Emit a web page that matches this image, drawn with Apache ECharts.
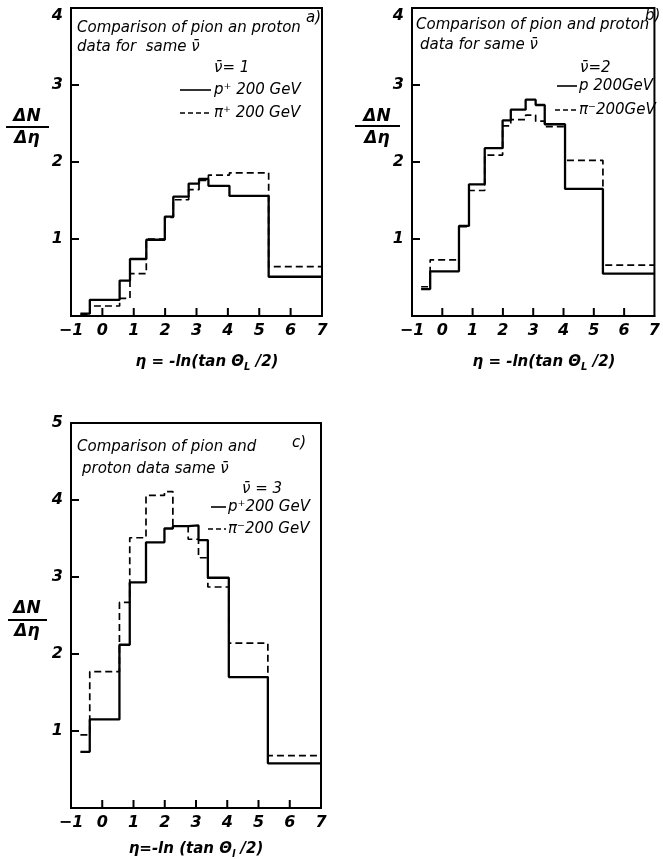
<!DOCTYPE html>
<html>
<head>
<meta charset="utf-8">
<script src="https://cdn.jsdelivr.net/npm/echarts@6/dist/echarts.min.js"></script>
<style>
  html, body { margin: 0; padding: 0; background: #fff; }
  #chart { width: 663px; height: 859px; }
</style>
</head>
<body>
<div id="chart"></div>
<script>
// Pseudorapidity bin edges shared by all three histograms
const etaEdges = [-0.7, -0.4, 0.55, 0.88, 1.4, 1.99, 2.26, 2.75, 3.08, 3.38, 4.05, 5.3, 7];

// dN/d(eta) per bin, nu-bar = 1
const protonNu1 = [0.03, 0.21, 0.46, 0.74, 0.99, 1.29, 1.55, 1.72, 1.78, 1.69, 1.56, 0.51];
const pionNu1   = [0.02, 0.13, 0.23, 0.55, 1.00, 1.28, 1.51, 1.64, 1.76, 1.83, 1.86, 0.64];

// dN/d(eta) per bin, nu-bar = 2
const protonNu2 = [0.35, 0.58, 1.17, 1.71, 2.18, 2.54, 2.68, 2.81, 2.74, 2.49, 1.65, 0.55];
const pionNu2   = [0.38, 0.73, 1.16, 1.63, 2.09, 2.47, 2.55, 2.61, 2.53, 2.46, 2.02, 0.66];

// dN/d(eta) per bin, nu-bar = 3
const protonNu3 = [0.73, 1.15, 2.12, 2.93, 3.45, 3.63, 3.66, 3.67, 3.48, 2.99, 1.70, 0.58];
const pionNu3   = [0.95, 1.77, 2.67, 3.51, 4.06, 4.11, 3.66, 3.49, 3.25, 2.87, 2.14, 0.68];

const etaMin = -1, etaMax = 7;
const yMaxTop = 4, yMaxBottom = 5;
const panelYMax = [yMaxTop, yMaxTop, yMaxBottom];

const FONT = '"DejaVu Sans", "Liberation Sans", sans-serif';
const TICK_LEN = 8;

// turn bin edges + contents into points for a stepped outline
function stepPoints(edges, values) {
  const pts = values.map((v, i) => [edges[i], v]);
  pts.push([edges[edges.length - 1], values[values.length - 1]]);
  return pts;
}

const grids = [
  { left: 71,  top: 8,   width: 251, height: 308 },
  { left: 412, top: 8,   width: 250, height: 308 },
  { left: 71,  top: 423, width: 250, height: 385 }
];

function xAxisFor(i) {
  return {
    gridIndex: i, type: 'value', min: etaMin, max: etaMax, interval: 1,
    axisLine: { show: true, onZero: false, lineStyle: { color: '#000', width: 2 } },
    axisTick: { show: false },
    splitLine: { show: false },
    axisLabel: {
      margin: 7, color: '#000', fontFamily: FONT, fontStyle: 'italic', fontWeight: 'bold', fontSize: 16,
      showMinLabel: true, showMaxLabel: true,
      formatter: v => String(v).replace('-', '\u2212')
    }
  };
}

function yAxisFor(i, max) {
  return {
    gridIndex: i, type: 'value', min: 0, max: max, interval: 1,
    axisLine: { show: true, onZero: false, lineStyle: { color: '#000', width: 2 } },
    axisTick: { show: false },
    splitLine: { show: false },
    axisLabel: {
      margin: 8, color: '#000', fontFamily: FONT, fontStyle: 'italic', fontWeight: 'bold', fontSize: 16,
      // the top label of the short panels sits a little below its tick
      formatter: v => (v === 0 ? '' : (max === yMaxTop && v === max ? '{top|' + v + '}' : String(v))),
      rich: {
        top: { fontFamily: FONT, fontStyle: 'italic', fontWeight: 'bold', fontSize: 16, color: '#000', padding: [16, 0, 0, 0] }
      }
    }
  };
}

function histSeries(i, values, dashed) {
  return {
    type: 'line', xAxisIndex: i, yAxisIndex: i, step: 'end', symbol: 'none', silent: true,
    data: stepPoints(etaEdges, values),
    lineStyle: dashed
      ? { color: '#000', width: 1.7, type: [7, 4] }
      : { color: '#000', width: 2.3 }
  };
}

// text helpers for annotations
function label(x, y, text, size, opts) {
  opts = opts || {};
  return {
    type: 'text', x: x, y: y, silent: true,
    style: {
      text: text, fill: '#000',
      font: 'italic ' + (opts.weight || 'normal') + ' ' + size + 'px ' + FONT,
      align: opts.align || 'left', verticalAlign: 'middle'
    }
  };
}
function rule(x1, x2, y, dashed) {
  return {
    type: 'line', silent: true,
    shape: { x1: x1, y1: y, x2: x2, y2: y },
    style: dashed ? { stroke: '#000', lineWidth: 1.6, lineDash: [5, 3] } : { stroke: '#000', lineWidth: 1.6 }
  };
}
function fraction(cx, x1, x2, yNum, yBar, yDen) {
  return [
    label(cx, yNum, 'ΔN', 17, { weight: 'bold', align: 'center' }),
    { type: 'line', silent: true, shape: { x1: x1, y1: yBar, x2: x2, y2: yBar }, style: { stroke: '#000', lineWidth: 2 } },
    label(cx, yDen, 'Δη', 17, { weight: 'bold', align: 'center' })
  ];
}
// eta = -ln(tan theta/2) with a subscript on theta
function etaTitle(cx, cy, lead, sub) {
  const base = { fontFamily: FONT, fontStyle: 'italic', fontWeight: 'bold', fill: '#000' };
  return {
    type: 'text', x: cx, y: cy, silent: true,
    style: {
      text: '{t|' + lead + '}{s|' + sub + '}{t| /2)}',
      align: 'center', verticalAlign: 'middle',
      rich: {
        t: Object.assign({ fontSize: 15 }, base),
        s: Object.assign({ fontSize: 10, padding: [10, 0, 0, 0] }, base)
      }
    }
  };
}

const NUBAR = 'ν\u0304';
const TXT = 15;

const graphics = [].concat(
  // panel a
  label(77, 28, 'Comparison of pion an proton', TXT),
  label(306, 18, 'a)', TXT),
  label(77, 47, 'data for  same ' + NUBAR, TXT),
  label(214, 68, NUBAR + '= 1', TXT),
  rule(180, 211, 90, false),
  label(214, 90, 'p\u207A 200 GeV', TXT),
  rule(180, 211, 113, true),
  label(214, 113, 'π\u207A 200 GeV', TXT),
  fraction(27, 6, 49, 117, 127, 139),
  etaTitle(207, 362, 'η = -ln(tan Θ', 'L'),

  // panel b
  label(416, 25, 'Comparison of pion and proton', TXT),
  label(645, 16, 'b)', TXT),
  label(420, 45, 'data for same ' + NUBAR, TXT),
  label(580, 68, NUBAR + '=2', TXT),
  rule(557, 577, 86, false),
  label(579, 86, 'p 200GeV', TXT),
  rule(555, 577, 110, true),
  label(579, 110, 'π\u207B200GeV', TXT),
  fraction(377, 355, 400, 117, 126, 139),
  etaTitle(544, 362, 'η = -ln(tan Θ', 'L'),

  // panel c
  label(77, 447, 'Comparison of pion and', TXT),
  label(82, 469, 'proton data same ' + NUBAR, TXT),
  label(292, 443, 'c)', TXT),
  label(242, 489, NUBAR + ' = 3', TXT),
  rule(211, 226, 507, false),
  label(228, 507, 'p\u207A200 GeV', TXT),
  rule(208, 226, 529, true),
  label(228, 529, 'π\u207B200 GeV', TXT),
  fraction(27, 8, 47, 609, 620, 632),
  etaTitle(196, 849, 'η=-ln (tan Θ', 'l')
);

const option = {
  animation: false,
  backgroundColor: '#fff',
  grid: grids.map(g => Object.assign({ show: true, borderColor: '#000', borderWidth: 2 }, g)),
  xAxis: [xAxisFor(0), xAxisFor(1), xAxisFor(2)],
  yAxis: [yAxisFor(0, yMaxTop), yAxisFor(1, yMaxTop), yAxisFor(2, yMaxBottom)],
  series: [
    histSeries(0, protonNu1, false), histSeries(0, pionNu1, true),
    histSeries(1, protonNu2, false), histSeries(1, pionNu2, true),
    histSeries(2, protonNu3, false), histSeries(2, pionNu3, true)
  ],
  graphic: graphics
};

const chart = echarts.init(document.getElementById('chart'), null, { renderer: 'canvas' });
chart.setOption(option);

// inward tick marks on the bottom and left frame edges, placed through each panel's scales
const tickMarks = [];
panelYMax.forEach((ymax, gi) => {
  for (let x = etaMin + 1; x < etaMax; x++) {
    const p = chart.convertToPixel({ gridIndex: gi }, [x, 0]);
    tickMarks.push({ type: 'line', silent: true, z: 10,
      shape: { x1: p[0], y1: p[1], x2: p[0], y2: p[1] - TICK_LEN },
      style: { stroke: '#000', lineWidth: 2 } });
  }
  for (let y = 1; y < ymax; y++) {
    const p = chart.convertToPixel({ gridIndex: gi }, [etaMin, y]);
    tickMarks.push({ type: 'line', silent: true, z: 10,
      shape: { x1: p[0], y1: p[1], x2: p[0] + TICK_LEN, y2: p[1] },
      style: { stroke: '#000', lineWidth: 2 } });
  }
});
chart.setOption({ graphic: graphics.concat(tickMarks) });
</script>
</body>
</html>
